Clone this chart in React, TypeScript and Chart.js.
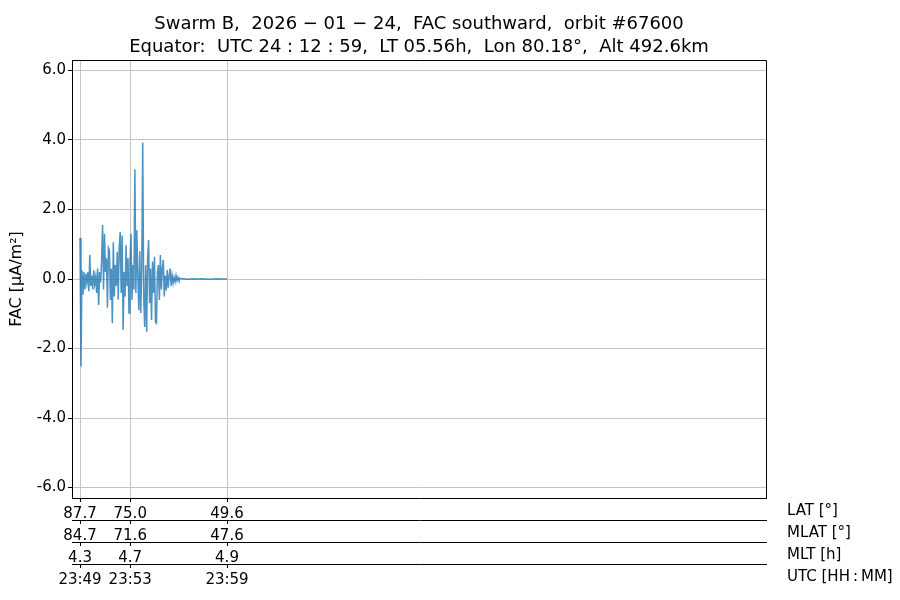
import React, { useEffect, useRef } from "react";
import Chart from "chart.js/auto";

const titleLines = [
  "Swarm B,  2026 − 01 − 24,  FAC southward,  orbit #67600",
  "Equator:  UTC 24 : 12 : 59,  LT 05.56h,  Lon 80.18°,  Alt 492.6km",
];
const yLabel = "FAC [µA/m²]";
const yTicks = [-6, -4, -2, 0, 2, 4, 6];
const xTickSeconds = [40, 245, 640];
const latLabels = ["87.7", "75.0", "49.6"];
const mlatLabels = ["84.7", "71.6", "47.6"];
const mltLabels = ["4.3", "4.7", "4.9"];
const utcLabels = ["23:49", "23:53", "23:59"];
const rowNames = ["LAT [°]", "MLAT [°]", "MLT [h]", "UTC [HH\u2009:\u2009MM]"];

// seconds after 23:49:00
const sampleStart = 40;
const sampleStep = 4;
const facValues = [
  1.18, -2.52, 0.25, -0.45, 0.2, -0.3, 0.15, -0.1, 0.2, -0.35,
  0.7, -0.2, 0.1, -0.3, 0.25, -0.15, 0.05, -0.4, 0.3, -0.75,
  0.2, -0.1, 0.5, 1.55, -0.3, 1.3, 0.2, 0.6, -0.83, 0.9,
  0.83, -0.6, 0.3, -1.27, 1.06, -0.5, 0.4, -0.2, 0.78, -0.6,
  0.9, 1.35, -0.4, 1.25, -1.46, 0.2, -0.5, 0.97, -0.2, 0.6,
  -0.98, 0.5, 1.3, -0.6, 0.4, -0.3, 3.16, -0.4, 1.4, 0.1,
  -0.9, 0.8, -0.98, 0.3, 3.93, -0.5, -1.38, 0.4, -1.52, 0.6,
  1.12, -0.7, 0.3, -1.18, 0.5, -0.4, 0.64, -1.24, -1.27, 0.2,
  0.4, -0.6, 0.69, -0.3, 0.3, 0.55, -0.5, 0.1, -0.32, 0.26,
  -0.25, 0.1, 0.3, -0.2, 0.1, -0.12, 0.05, -0.08, 0.1, -0.05,
  0.05, -0.03, 0.02,
];
const tailTimes = [460, 480, 500, 520, 540, 560, 580, 600, 620, 640];
const tailValues = [0.01, -0.01, 0.01, 0.0, 0.01, -0.01, 0.0, 0.01, 0.0, 0.0];

const xMin = 7.3;
const xMax = 2840;
const yMin = -6.3;
const yMax = 6.3;

const FONT = "'DejaVu Sans', sans-serif";

export default function App() {
  const ref = useRef<HTMLCanvasElement | null>(null);
  useEffect(() => {
    if (!ref.current) return;
    const points = facValues.map((v, i) => ({ x: sampleStart + i * sampleStep, y: v }));
    tailTimes.forEach((t, i) => points.push({ x: t, y: tailValues[i] }));

    const rowLabelSets = [latLabels, mlatLabels, mltLabels, utcLabels];
    const axisIds = ["x", "x2", "x3", "x4"];

    const makeX = (k: number) => ({
      type: "linear",
      position: "bottom",
      min: xMin,
      max: xMax,
      weight: k,
      afterBuildTicks: (s: any) => {
        s.ticks = xTickSeconds.map((v) => ({ value: v }));
      },
      afterFit: (s: any) => {
        s.height = 22;
      },
      ticks: {
        autoSkip: false,
        maxRotation: 0,
        padding: 3,
        color: "#000",
        font: { family: FONT, size: 15 },
        callback: (v: number) => rowLabelSets[k][xTickSeconds.indexOf(v)] ?? "",
      },
      grid: {
        display: true,
        drawOnChartArea: k === 0,
        color: "#c4c4c4",
        lineWidth: 1,
        tickColor: "#000",
        tickLength: 4,
      },
      border: { display: true, color: "#000", width: 1 },
    });

    const framePlugin = {
      id: "frameAndRows",
      afterDraw(chart: any) {
        const { ctx, chartArea } = chart;
        ctx.save();
        ctx.strokeStyle = "#000";
        ctx.lineWidth = 1;
        ctx.beginPath();
        ctx.moveTo(chartArea.left, chartArea.top + 0.5);
        ctx.lineTo(chartArea.right + 0.5, chartArea.top + 0.5);
        ctx.lineTo(chartArea.right + 0.5, chartArea.bottom);
        ctx.stroke();
        ctx.fillStyle = "#000";
        // title, centred over the plot area
        ctx.font = `18px ${FONT}`;
        ctx.textAlign = "center";
        ctx.textBaseline = "middle";
        const cx = (chartArea.left + chartArea.right) / 2;
        ctx.fillText(titleLines[0], cx, chartArea.top - 36);
        ctx.fillText(titleLines[1], cx, chartArea.top - 13);
        // row names on the right
        ctx.font = `15px ${FONT}`;
        ctx.textAlign = "left";
        axisIds.forEach((id, i) => {
          const sc = chart.scales[id];
          ctx.fillText(rowNames[i], 787, sc.top + 13);
        });
        ctx.restore();
      },
    };

    const chart = new Chart(ref.current, {
      type: "line",
      data: {
        datasets: [
          {
            data: points,
            borderColor: "rgba(31,119,180,0.8)",
            borderWidth: 1.5,
            pointRadius: 0,
            tension: 0,
            fill: false,
          },
        ],
      },
      options: {
        animation: false,
        responsive: true,
        maintainAspectRatio: false,
        layout: { padding: { left: 0, right: 134, top: 60, bottom: 14 } },
        plugins: {
          legend: { display: false },
          tooltip: { enabled: false },
          title: { display: false },
        },
        scales: {
          x: makeX(0),
          x2: makeX(1),
          x3: makeX(2),
          x4: makeX(3),
          y: {
            type: "linear",
            min: yMin,
            max: yMax,
            afterBuildTicks: (s: any) => {
              s.ticks = yTicks.map((v) => ({ value: v }));
            },
            afterFit: (s: any) => {
              s.width = 72;
            },
            ticks: {
              color: "#000",
              padding: 2,
              font: { family: FONT, size: 15 },
              callback: (v: number) => v.toFixed(1),
            },
            grid: { color: "#c4c4c4", lineWidth: 1, tickColor: "#000", tickLength: 4 },
            border: { display: true, color: "#000", width: 1 },
            title: {
              display: true,
              text: yLabel,
              color: "#000",
              font: { family: FONT, size: 16 },
              padding: { top: 7, bottom: 0 },
            },
          },
        },
      } as any,
      plugins: [framePlugin],
    });
    return () => chart.destroy();
  }, []);

  return (
    <div style={{ position: "fixed", left: 0, top: 0, width: 900, height: 600, background: "#fff" }}>
      <canvas ref={ref} />
    </div>
  );
}
